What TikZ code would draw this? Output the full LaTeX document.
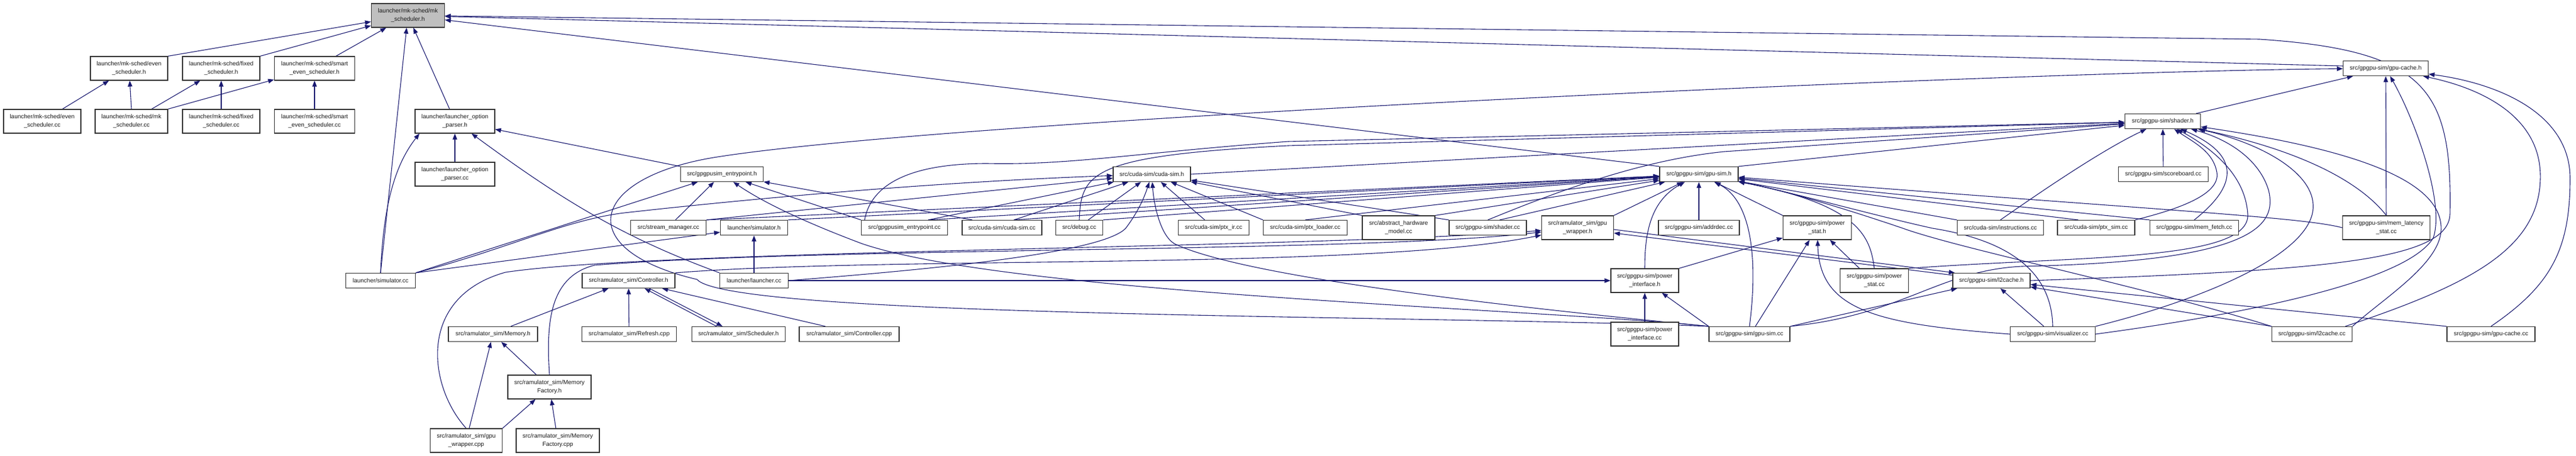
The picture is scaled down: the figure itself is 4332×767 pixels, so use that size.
\documentclass[tikz,border=0pt]{standalone}
\usepackage{fontspec}
\setsansfont{Liberation Sans}
\usetikzlibrary{arrows.meta,backgrounds}
\definecolor{inclblue}{HTML}{191970}
\definecolor{rootgray}{HTML}{BFBFBF}

\begin{document}
\begin{tikzpicture}[x=1pt,y=-1pt,
	srcbox/.style={draw=black!80, line width=1.2pt, fill=white, text=black!90, align=center,
		inner sep=0pt, minimum height=25pt, font=\sffamily\fontsize{10}{14}\selectfont},
	srcbox2/.style={srcbox, minimum height=40pt},
	incl/.style={draw=inclblue, line width=1.1pt, -{Triangle[length=10pt,width=7.5pt]}}]
		\useasboundingbox (0,0) rectangle (4332,767);
%		\draw[gray!40] (0,0) grid[step=100] (4332,767);

		\node[srcbox2, fill=rootgray, minimum width=123pt] (mkh) at (686,26) {launcher/mk-sched/mk\\\_scheduler.h};

		\node[srcbox2, minimum width=130pt] (evenh) at (217,115) {launcher/mk-sched/even\\\_scheduler.h};
		\node[srcbox2, minimum width=130pt] (fixedh) at (372,115) {launcher/mk-sched/fixed\\\_scheduler.h};
		\node[srcbox2, minimum width=135pt] (smarth) at (529,115) {launcher/mk-sched/smart\\\_even\_scheduler.h};
		\node[srcbox, minimum width=143pt] (cacheh) at (4012,115) {src/gpgpu-sim/gpu-cache.h};

		\node[srcbox2, minimum width=130pt] (evencc) at (71,204) {launcher/mk-sched/even\\\_scheduler.cc};
		\node[srcbox2, minimum width=122pt] (mkcc) at (221,204) {launcher/mk-sched/mk\\\_scheduler.cc};
		\node[srcbox2, minimum width=130pt] (fixedcc) at (372,204) {launcher/mk-sched/fixed\\\_scheduler.cc};
		\node[srcbox2, minimum width=135pt] (smartcc) at (529,204) {launcher/mk-sched/smart\\\_even\_scheduler.cc};
		\node[srcbox2, minimum width=134pt] (opth) at (765,204) {launcher/launcher\_option\\\_parser.h};
		\node[srcbox, minimum width=127pt] (shaderh) at (3637,204) {src/gpgpu-sim/shader.h};

		\node[srcbox2, minimum width=134pt] (optcc) at (765,293) {launcher/launcher\_option\\\_parser.cc};
		\node[srcbox, minimum width=139pt] (entryh) at (1214,293) {src/gpgpusim\_entrypoint.h};
		\node[srcbox, minimum width=130pt] (cudah) at (1937,293) {src/cuda-sim/cuda-sim.h};
		\node[srcbox, minimum width=132pt] (gpusimh) at (2857,293) {src/gpgpu-sim/gpu-sim.h};
		\node[srcbox, minimum width=151pt] (scoreb) at (3638,293) {src/gpgpu-sim/scoreboard.cc};

		\node[srcbox, minimum width=127pt] (stream) at (1124,383) {src/stream\_manager.cc};
		\node[srcbox, minimum width=113pt] (simh) at (1268,383) {launcher/simulator.h};
		\node[srcbox, minimum width=145pt] (entrycc) at (1521,383) {src/gpgpusim\_entrypoint.cc};
		\node[srcbox, minimum width=134pt] (cudacc) at (1685,383) {src/cuda-sim/cuda-sim.cc};
		\node[srcbox, minimum width=79pt] (debug) at (1815,383) {src/debug.cc};
		\node[srcbox, minimum width=119pt] (ptxir) at (2041,383) {src/cuda-sim/ptx\_ir.cc};
		\node[srcbox, minimum width=141pt] (ptxld) at (2195,383) {src/cuda-sim/ptx\_loader.cc};
		\node[srcbox2, minimum width=122pt] (abstract) at (2352,383) {src/abstract\_hardware\\\_model.cc};
		\node[srcbox, minimum width=130pt] (shadercc) at (2502,383) {src/gpgpu-sim/shader.cc};
		\node[srcbox2, minimum width=121pt] (wraph) at (2653,383) {src/ramulator\_sim/gpu\\\_wrapper.h};
		\node[srcbox, minimum width=136pt] (addrdec) at (2857,383) {src/gpgpu-sim/addrdec.cc};
		\node[srcbox2, minimum width=115pt] (pstath) at (3056,383) {src/gpgpu-sim/power\\\_stat.h};
		\node[srcbox, minimum width=145pt] (instr) at (3364,383) {src/cuda-sim/instructions.cc};
		\node[srcbox, minimum width=130pt] (ptxsim) at (3525,383) {src/cuda-sim/ptx\_sim.cc};
		\node[srcbox, minimum width=149pt] (memfetch) at (3690,383) {src/gpgpu-sim/mem\_fetch.cc};
		\node[srcbox2, minimum width=147pt] (memlat) at (4013,383) {src/gpgpu-sim/mem\_latency\\\_stat.cc};

		\node[srcbox, minimum width=117pt] (simcc) at (640,472) {launcher/simulator.cc};
		\node[srcbox, minimum width=156pt] (ctrlh) at (1057,472) {src/ramulator\_sim/Controller.h};
		\node[srcbox, minimum width=115pt] (launchcc) at (1268,472) {launcher/launcher.cc};
		\node[srcbox2, minimum width=114pt] (pinth) at (2766,472) {src/gpgpu-sim/power\\\_interface.h};
		\node[srcbox2, minimum width=115pt] (pstatcc) at (3152,472) {src/gpgpu-sim/power\\\_stat.cc};
		\node[srcbox, minimum width=130pt] (l2h) at (3349,472) {src/gpgpu-sim/l2cache.h};

		\node[srcbox, minimum width=150pt] (memoryh) at (829,562) {src/ramulator\_sim/Memory.h};
		\node[srcbox, minimum width=159pt] (refresh) at (1058,562) {src/ramulator\_sim/Refresh.cpp};
		\node[srcbox, minimum width=157pt] (schedh) at (1242,562) {src/ramulator\_sim/Scheduler.h};
		\node[srcbox, minimum width=168pt] (ctrlcpp) at (1428,562) {src/ramulator\_sim/Controller.cpp};
		\node[srcbox2, minimum width=114pt] (pintcc) at (2766,562) {src/gpgpu-sim/power\\\_interface.cc};
		\node[srcbox, minimum width=136pt] (gpusimcc) at (2942,562) {src/gpgpu-sim/gpu-sim.cc};
		\node[srcbox, minimum width=143pt] (visual) at (3452,562) {src/gpgpu-sim/visualizer.cc};
		\node[srcbox, minimum width=135pt] (l2cc) at (3888,562) {src/gpgpu-sim/l2cache.cc};
		\node[srcbox, minimum width=148pt] (cachecc) at (4189,562) {src/gpgpu-sim/gpu-cache.cc};

		\node[srcbox2, minimum width=140pt] (mfh) at (924,651) {src/ramulator\_sim/Memory\\Factory.h};
		\node[srcbox2, minimum width=121pt] (wrapcpp) at (784,741) {src/ramulator\_sim/gpu\\\_wrapper.cpp};
		\node[srcbox2, minimum width=140pt] (mfcpp) at (938,741) {src/ramulator\_sim/Memory\\Factory.cpp};

	\begin{scope}[on background layer]
		% mk-sched
		\draw[incl] (evenh.north east) -- (mkh);
		\draw[incl] (fixedh.north east) -- (mkh);
		\draw[incl] ([xshift=36pt]smarth.north) -- (mkh);
		\draw[incl] ([xshift=-9pt]opth.north) -- (mkh);
		\draw[incl] (simcc.north) -- (mkh);
		\draw[incl] (gpusimh.north west) -- (mkh);
		\draw[incl] ([yshift=4pt]cacheh.west) -- (mkh);
		\draw[incl] (l2h.east) .. controls (3900,455) and (4118,440) .. (4120,360)
			.. controls (4124,150) and (4080,85) .. (3800,66) -- (mkh);
		\draw[incl] ([xshift=34pt]evencc.north) -- (evenh);
		\draw[incl] (mkcc.north) -- (evenh);
		\draw[incl] ([xshift=34pt]mkcc.north) -- (fixedh);
		\draw[incl] (mkcc.north east) -- (smarth);
		\draw[incl] (fixedcc) -- (fixedh);
		\draw[incl] (smartcc) -- (smarth);

		% launcher
		\draw[incl] (optcc) -- (opth);
		\draw[incl] (simcc.north) .. controls (645,330) and (670,270) .. ([xshift=8pt]opth.south west);
		\draw[incl] (launchcc.north west) .. controls (1050,400) and (950,340) .. (opth);
		\draw[incl] (entryh.north west) -- (opth);
		\draw[incl] (simcc.north east) -- (entryh);
		\draw[incl] (simcc.north east) -- (simh);
		\draw[incl] (simcc.north east) .. controls (850,420) and (950,370) .. (1050,358)
			.. controls (1300,330) and (1600,305) .. (cudah);
		\draw[incl] (launchcc) -- (simh);
		\draw[incl] (launchcc.east) .. controls (1500,458) and (1850,430) .. (1893,384)
			.. controls (1915,355) and (1925,330) .. (cudah);
		\draw[incl] (launchcc.east) -- (pinth);

		% entrypoint
		\draw[incl] ([xshift=12pt]stream.north) -- (entryh);
		\draw[incl] (entrycc.north west) -- (entryh);
		\draw[incl] ([xshift=-50pt]cudacc.north) -- (entryh);
		\draw[incl] (gpusimcc.north west) .. controls (2600,520) and (1700,495) .. (1450,410)
			.. controls (1370,380) and (1290,345) .. (entryh);

		% cuda-sim.h
		\draw[incl] (stream.north east) -- (cudah);
		\draw[incl] ([xshift=40pt]entrycc.north) -- (cudah);
		\draw[incl] ([xshift=20pt]cudacc.north) -- (cudah);
		\draw[incl] ([xshift=15pt]debug.north) -- (cudah);
		\draw[incl] ([xshift=-15pt]ptxir.north) -- (cudah);
		\draw[incl] (ptxld.north west) -- (cudah);
		\draw[incl] (abstract.north west) -- (cudah);
		\draw[incl] (shadercc.north west) -- (cudah);
		\draw[incl] (gpusimcc.north west) .. controls (2600,522) and (2100,470) .. (1975,410)
			.. controls (1950,395) and (1940,340) .. (cudah);

		% gpu-sim.h
		\draw[incl] (stream.north east) -- (gpusimh);
		\draw[incl] (simh.north east) -- (gpusimh);
		\draw[incl] ([xshift=40pt]entrycc.north) -- (gpusimh);
		\draw[incl] ([xshift=20pt]cudacc.north) -- (gpusimh);
		\draw[incl] (debug.north east) -- (gpusimh);
		\draw[incl] (ptxld.north) -- (gpusimh);
		\draw[incl] (abstract.north east) -- (gpusimh);
		\draw[incl] ([xshift=20pt]shadercc.north) -- (gpusimh);
		\draw[incl] (wraph.north east) -- (gpusimh);
		\draw[incl] (addrdec) -- (gpusimh);
		\draw[incl] (pinth.north) .. controls (2766,400) and (2772,340) .. (gpusimh);
		\draw[incl] (pstath.north west) -- (gpusimh);
		\draw[incl] (instr.north west) -- (gpusimh);
		\draw[incl] ([xshift=-30pt]ptxsim.north) -- (gpusimh);
		\draw[incl] (pstatcc.north) .. controls (3145,400) and (3130,345) .. (gpusimh);
		\draw[incl] (visual.north) .. controls (3450,440) and (3350,400) .. (3250,384)
			.. controls (3150,362) and (3000,320) .. (gpusimh);
		\draw[incl] (gpusimcc.north) .. controls (2955,450) and (2950,340) .. (gpusimh);
		\draw[incl] (memfetch.north west) -- (gpusimh);
		\draw[incl] (memlat.west) .. controls (3870,365) and (3650,355) .. (gpusimh);
		\draw[incl] (l2cc.north west) .. controls (3600,480) and (3300,420) .. (3200,384)
			.. controls (3100,350) and (3000,320) .. (gpusimh);

		% shader.h
		\draw[incl] (cudah.east) -- (shaderh);
		\draw[incl] (gpusimh.north east) -- (shaderh);
		\draw[incl] (debug.north) .. controls (1818,290) and (1835,262) .. (2166,245) -- (shaderh);
		\draw[incl] ([xshift=6pt]entrycc.north west) .. controls (1465,310) and (1530,275) .. (1660,275)
			.. controls (1800,278) and (1900,258) .. (2166,238) -- (shaderh);
		\draw[incl] (shadercc.north) .. controls (2600,330) and (2750,270) .. (2900,255) -- (shaderh);
		\draw[incl] (scoreb) -- (shaderh);
		\draw[incl] (instr.north) .. controls (3450,310) and (3540,250) .. (shaderh);
		\draw[incl] (ptxsim.north east) .. controls (3650,355) and (3735,330) .. (3728,290)
			.. controls (3722,255) and (3690,240) .. (shaderh);
		\draw[incl] (memfetch.north) .. controls (3740,330) and (3790,270) .. (shaderh);
		\draw[incl] (memlat.north) .. controls (3980,320) and (3900,260) .. (shaderh);
		\draw[incl] (pstatcc.north east) .. controls (3500,430) and (3785,440) .. (3780,360)
			.. controls (3776,300) and (3730,255) .. (shaderh);
		\draw[incl] (gpusimcc.north east) .. controls (3200,530) and (3260,455) .. (3400,448)
			.. controls (3790,440) and (3830,380) .. (3815,320)
			.. controls (3800,270) and (3750,235) .. (shaderh);
		\draw[incl] (visual.north east) .. controls (3700,505) and (3885,430) .. (3890,350)
			.. controls (3893,290) and (3800,240) .. (shaderh);
		\draw[incl] (l2cc.north east) .. controls (4010,500) and (4110,440) .. (4105,380)
			.. controls (4100,300) and (3950,250) .. (shaderh);

		% gpu-cache.h
		\draw[incl] ([xshift=-8pt]shaderh.north east) -- (cacheh);
		\draw[incl] (memlat) -- (cacheh);
		\draw[incl] ([xshift=-12pt]l2cc.north east) .. controls (4150,480) and (4270,420) .. (4272,300)
			.. controls (4274,200) and (4180,150) .. (cacheh);
		\draw[incl] (cachecc.north) .. controls (4290,480) and (4322,420) .. (4322,300)
			.. controls (4322,190) and (4200,140) .. (cacheh);
		\draw[incl] (visual.east) .. controls (3800,525) and (4050,470) .. (4092,400)
			.. controls (4112,340) and (4060,200) .. (cacheh);
		\draw[incl] (gpusimcc.north west) .. controls (2400,530) and (1230,535) .. (1172,470)
			.. controls (960,420) and (990,300) .. (1200,265)
			.. controls (1600,200) and (3400,120) .. (cacheh);

		% ramulator
		\draw[incl] ([xshift=30pt]memoryh.north) -- (ctrlh);
		\draw[incl] (refresh) -- (ctrlh);
		\draw[incl] ([xshift=-37pt]schedh.north) -- ([xshift=27pt]ctrlh.south);
		\draw[incl] ([xshift=35pt]ctrlh.south) -- ([xshift=-27pt]schedh.north);
		\draw[incl] ([xshift=-40pt]ctrlcpp.north) -- (ctrlh);
		\draw[incl] (ctrlh.north east) .. controls (1500,430) and (2300,455) .. (wraph);
		\draw[incl] (mfh.north) .. controls (918,540) and (925,465) .. (1000,446)
			.. controls (1400,415) and (2300,425) .. (wraph);
		\draw[incl] (wrapcpp.north) .. controls (720,650) and (700,500) .. (850,458)
			.. controls (1100,420) and (2200,418) .. (wraph);
		\draw[incl] ([xshift=-22pt]mfh.north) -- (memoryh);
		\draw[incl] ([xshift=5pt]wrapcpp.north) -- (memoryh);
		\draw[incl] (wrapcpp.north east) -- (mfh);
		\draw[incl] (mfcpp) -- (mfh);

		% l2cache, power
		\draw[incl] ([yshift=-3pt]wraph.east) -- ([xshift=4pt]l2h.north west);
		\draw[incl] ([yshift=-4pt]l2h.north west) -- ([yshift=-9pt]wraph.east);
		\draw[incl] (gpusimcc.north east) -- (l2h);
		\draw[incl] ([xshift=-15pt]visual.north) -- (l2h);
		\draw[incl] (l2cc.north west) -- (l2h);
		\draw[incl] (cachecc.north west) -- (l2h);
		\draw[incl] (pintcc) -- (pinth);
		\draw[incl] (gpusimcc.north west) -- (pinth);
		\draw[incl] (pinth.north east) -- (pstath);
		\draw[incl] ([xshift=10pt]gpusimcc.north) -- (pstath);
		\draw[incl] (visual.west) .. controls (3150,545) and (3060,520) .. (pstath);
		\draw[incl] ([xshift=-25pt]pstatcc.north) -- (pstath);
	\end{scope}
\end{tikzpicture}
\end{document}
